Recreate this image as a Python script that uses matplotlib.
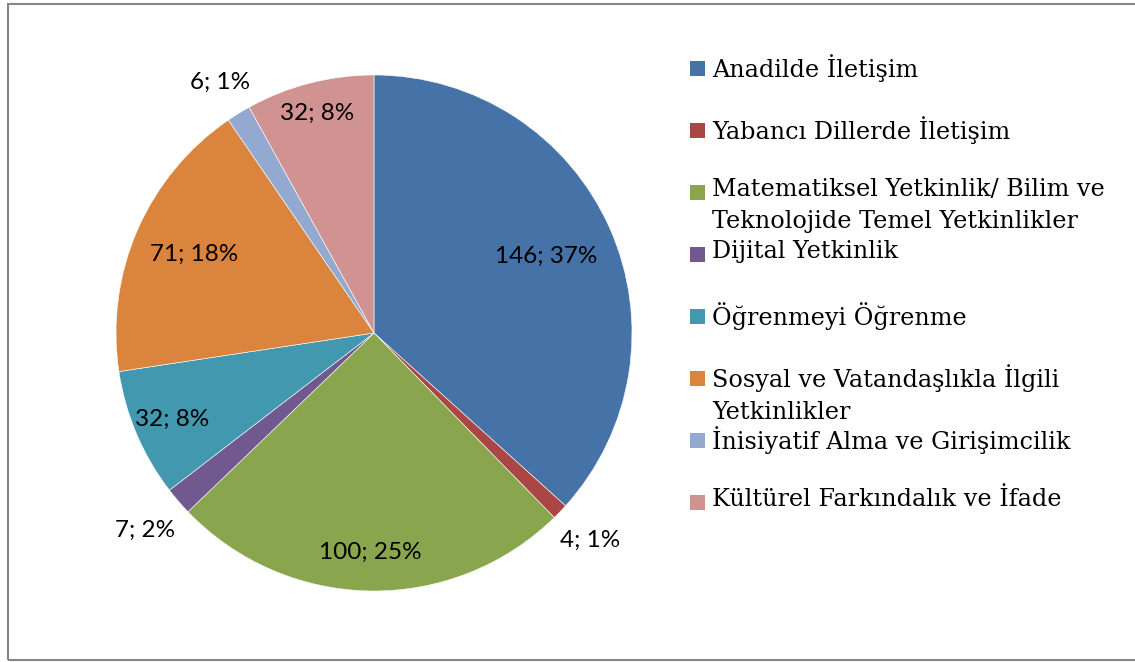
import numpy as np
import matplotlib
matplotlib.use("Agg")
import matplotlib.pyplot as plt
from matplotlib.patches import Rectangle

# data
categories = ["Anadilde İletişim",
              "Yabancı Dillerde İletişim",
              "Matematiksel Yetkinlik/ Bilim ve\nTeknolojide Temel Yetkinlikler",
              "Dijital Yetkinlik",
              "Öğrenmeyi Öğrenme",
              "Sosyal ve Vatandaşlıkla İlgili\nYetkinlikler",
              "İnisiyatif Alma ve Girişimcilik",
              "Kültürel Farkındalık ve İfade"]
counts = [146, 4, 100, 7, 32, 71, 6, 32]
percents = [37, 1, 25, 2, 8, 18, 1, 8]
colors = ["#4572A7", "#AA4643", "#89A54E", "#71588F",
          "#4198AF", "#DB843D", "#93A9CF", "#D19392"]
# radial position of each data label (fraction of radius)
label_dist = [0.73, 1.16, 0.85, 1.17, 0.85, 0.76, 1.14, 0.88]

fig = plt.figure(figsize=(11.35, 6.62), dpi=100)

# outer chart frame
fig.patches.append(Rectangle((8 / 1135, 2 / 662), 1.2, 656 / 662,
                             transform=fig.transFigure, fill=False,
                             edgecolor="#868686", linewidth=1.5))

ax = fig.add_axes([116 / 1135, 71 / 662, 516 / 1135, 516 / 662])
wedges, _ = ax.pie(counts, colors=colors, startangle=90, counterclock=False,
                   wedgeprops=dict(edgecolor="white", linewidth=0.4))
ax.set_xlim(-1, 1)
ax.set_ylim(-1, 1)
ax.set_aspect("equal")

# data labels "value; pct%"
for w, c, p, d in zip(wedges, counts, percents, label_dist):
    ang = np.deg2rad((w.theta1 + w.theta2) / 2)
    ax.text(d * np.cos(ang), d * np.sin(ang), f"{c}; {p}%",
            ha="center", va="center", fontsize=17.5, family="Lato",
            color="black")

# legend drawn by hand so wrapped entries keep the same slot height
y_top = 68
step = 62
for i, (lab, col) in enumerate(zip(categories, colors)):
    yc = 1 - (y_top + i * step) / 662
    fig.patches.append(Rectangle((690 / 1135, yc - 7.5 / 662), 15 / 1135, 15 / 662,
                                 transform=fig.transFigure, facecolor=col,
                                 edgecolor="none"))
    fig.text(712 / 1135, yc + 14 / 662, lab, ha="left", va="top",
             fontsize=17.2, family="DejaVu Serif", linespacing=1.5)

fig.savefig("out.png", dpi=100)
